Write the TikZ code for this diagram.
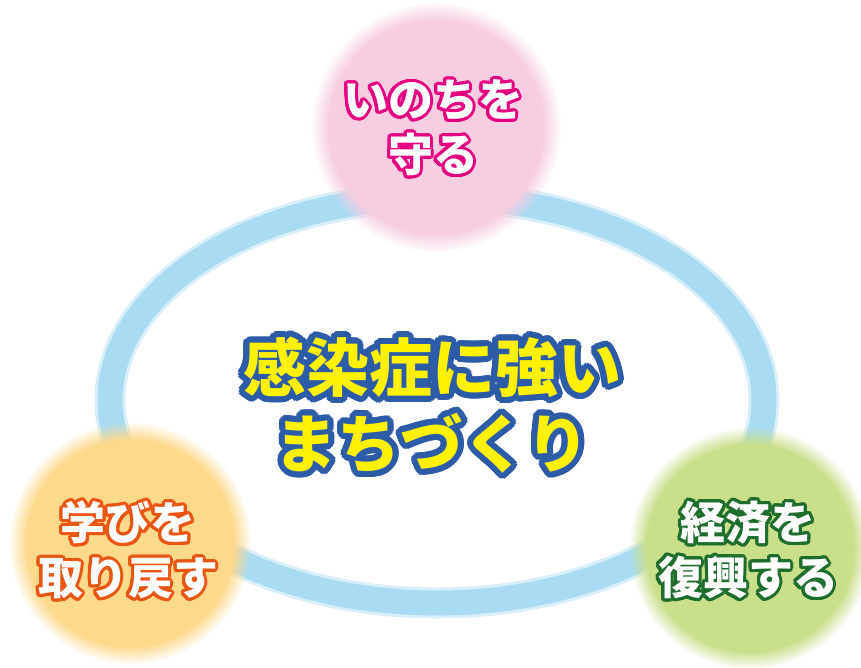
\documentclass[tikz,border=0pt]{standalone}
\usepackage{fontspec}
\newfontfamily\jp{Noto Sans CJK JP}
\usetikzlibrary{fadings}
\definecolor{ringblue}{HTML}{A9DCF3}
\definecolor{cpink}{HTML}{F7CDE1}
\definecolor{corange}{HTML}{FDD98B}
\definecolor{cgreen}{HTML}{C9DF8A}
\definecolor{tpink}{HTML}{E4007F}
\definecolor{torange}{HTML}{EA5514}
\definecolor{tgreen}{HTML}{1D6E2D}
\definecolor{tblue}{HTML}{2C5BA8}
\definecolor{tyellow}{HTML}{FFF100}
\newcommand\outlinetext[4]{%
  \begingroup
  \setbox0=\hbox{#4}%
  \makebox[\wd0][l]{%
    \foreach \a in {0,15,...,345}{%
      \pgfmathsetlengthmacro\dx{#2*cos(\a)}%
      \pgfmathsetlengthmacro\dy{#2*sin(\a)}%
      \rlap{\hspace*{\dx}\raisebox{\dy}{\color{#1}#4}}%
    }%
    \rlap{\color{#3}#4}%
  }%
  \endgroup}
\tikzset{
  blob/.style={circle, inner sep=0pt, minimum size=#1, path fading=circle with fuzzy edge 15 percent},
  label/.style={align=center, inner sep=0pt},
}
\begin{document}
\begin{tikzpicture}[x=1pt,y=-1pt]
\useasboundingbox (0,0) rectangle (861,668);
\fill[white] (0,0) rectangle (861,668);
% ring
\coordinate (c) at (437,400);
\draw[ringblue, opacity=0.45, line width=31pt] (c) ellipse [x radius=327, y radius=203];
\draw[ringblue, line width=25pt] (c) ellipse [x radius=327, y radius=203];
% circles
\node[blob=250pt, fill=cpink] (pink) at (436,127) {};
\node[blob=242pt, fill=corange] (orange) at (130,543) {};
\node[blob=242pt, fill=cgreen] (green) at (750,548) {};
% texts
\node[label, font=\jp\bfseries\fontsize{45}{55}\selectfont] (tp) at (433,128)
  {\outlinetext{tpink}{3pt}{white}{いのちを}\\\outlinetext{tpink}{3pt}{white}{守る}};
\node[label, font=\jp\bfseries\fontsize{45}{55}\selectfont] (to) at (128,550)
  {\outlinetext{torange}{3pt}{white}{学びを}\\\outlinetext{torange}{3pt}{white}{取り戻す}};
\node[label, font=\jp\bfseries\fontsize{45}{55}\selectfont] (tg) at (748,550)
  {\outlinetext{tgreen}{3pt}{white}{経済を}\\\outlinetext{tgreen}{3pt}{white}{復興する}};
\node[label, font=\jp\bfseries\fontsize{63}{76}\selectfont] (tc) at (432,405)
  {\outlinetext{tblue}{6pt}{tyellow}{感染症に強い}\\\outlinetext{tblue}{6pt}{tyellow}{まちづくり}};
\end{tikzpicture}
\end{document}
